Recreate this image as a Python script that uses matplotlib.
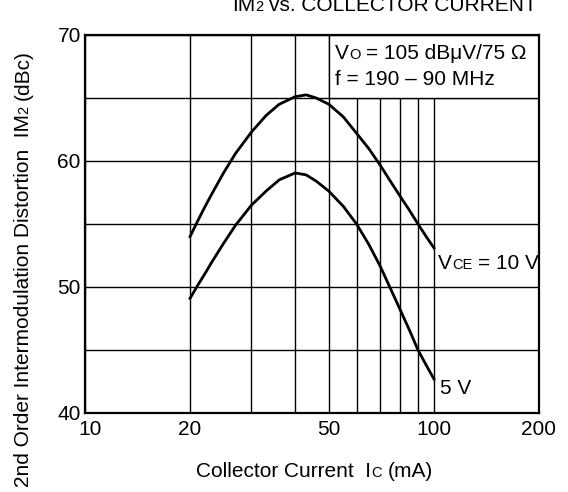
import matplotlib.pyplot as plt
from matplotlib.patches import Rectangle
from matplotlib.transforms import ScaledTranslation

plt.rcParams['font.family'] = ['Liberation Sans', 'DejaVu Sans']

# datos
ic_10v = [20, 21, 22, 23, 25, 27, 30, 33, 36, 40, 43, 46, 50,
          55, 60, 65, 70, 75, 80, 85, 90, 95, 100]
im2_10v = [54.0, 55.2, 56.3, 57.3, 59.1, 60.6, 62.3, 63.6, 64.5, 65.1, 65.25, 65.0, 64.5,
           63.5, 62.2, 61.0, 59.7, 58.4, 57.2, 56.1, 55.0, 54.0, 53.1]
ic_5v = [20, 21, 22, 23, 25, 27, 30, 33, 36, 40, 43, 46, 50,
         55, 60, 65, 70, 75, 80, 85, 90, 95, 100]
im2_5v = [49.1, 50.1, 51.0, 51.9, 53.5, 54.9, 56.5, 57.6, 58.5, 59.05, 58.9, 58.4, 57.6,
          56.4, 55.0, 53.4, 51.7, 49.9, 48.2, 46.6, 45.0, 43.8, 42.7]

x_ticks = [10, 20, 50, 100, 200]
x_minor = [30, 40, 60, 70, 80, 90]
y_ticks = [40, 50, 60, 70]
y_minor = [45, 55, 65]

FS = 15      # tamaño de letra normal
SC = 10.5    # tamaño de las "versalitas" (subindices)
DESC = 0.21  # descenso aproximado de la fuente (em)
SPACE = 0.278  # ancho del espacio (em)


def texto_rico(ax, x, y, partes, rotacion=0):
    """Dibuja trozos de texto uno detras de otro, alineados en la linea base."""
    prev = None
    prev_size = None
    for s, size in partes:
        if prev is None:
            if rotacion == 0:
                prev = ax.annotate(s, xy=(x, y), xycoords='figure pixels',
                                   fontsize=size, ha='left', va='bottom')
            else:
                prev = ax.annotate(s, xy=(x, y), xycoords='figure pixels',
                                   fontsize=size, ha='right', va='bottom',
                                   rotation=90)
        else:
            d = DESC * (prev_size - size)
            esp = 0
            if s.startswith(' '):
                esp = SPACE * size
                s = s[1:]
            if rotacion == 0:
                prev = ax.annotate(s, xy=(1, 0), xycoords=prev,
                                   xytext=(esp, d), textcoords='offset points',
                                   fontsize=size, ha='left', va='bottom')
            else:
                prev = ax.annotate(s, xy=(1, 1), xycoords=prev,
                                   xytext=(-d, esp), textcoords='offset points',
                                   fontsize=size, ha='right', va='bottom',
                                   rotation=90)
        prev_size = size
    return prev


fig = plt.figure(figsize=(5.68, 4.92), dpi=100)
ax = fig.add_axes([85 / 568, 79 / 492, 454 / 568, 378 / 492])
ax.set_xscale('log')
ax.set_xlim(10, 200)
ax.set_ylim(40, 70)

ax.set_xticks(x_ticks)
ax.set_xticklabels([str(v) for v in x_ticks])
ax.set_xticks(x_minor, minor=True)
ax.set_xticklabels([], minor=True)
ax.set_yticks(y_ticks)
ax.set_yticks(y_minor, minor=True)
ax.tick_params(which='both', length=0, labelsize=FS, colors='black')
ax.tick_params(axis='x', pad=5)
ax.tick_params(axis='y', pad=3)
# el "10" esta corrido un poco a la derecha en el original
lbl = ax.get_xticklabels()[0]
lbl.set_transform(lbl.get_transform() + ScaledTranslation(4 / 72, 0, fig.dpi_scale_trans))

ax.set_axisbelow(True)
ax.grid(True, which='both', color='black', linewidth=1.0)
for sp in ax.spines.values():
    sp.set_linewidth(1.6)

# recuadro de condiciones (tapa la rejilla)
ax.add_patch(Rectangle((50, 65), 150, 5, facecolor='white', edgecolor='black',
                       linewidth=1.0, zorder=1))

ax.plot(ic_10v, im2_10v, color='black', linewidth=2, zorder=2)
ax.plot(ic_5v, im2_5v, color='black', linewidth=2, zorder=2)

# textos
texto_rico(ax, 232, 477, [('IM', 15), ('2', 10.5), (' vs. COLLECTOR CURRENT', 15)])
texto_rico(ax, 335, 429, [('V', FS), ('O', SC), (' = 105 dBμV/75 Ω', FS)])
texto_rico(ax, 335, 403, [('f = 190 – 90 MHz', FS)])
texto_rico(ax, 438, 219, [('V', FS), ('CE', SC), (' = 10 V', FS)])
texto_rico(ax, 440, 94, [('5 V', FS)])
texto_rico(ax, 196, 11, [('Collector Current  I', FS), ('C', SC), (' (mA)', FS)])
texto_rico(ax, 33, 5, [('2nd Order Intermodulation Distortion  IM', FS),
                       ('2', SC), (' (dBc)', FS)], rotacion=90)

fig.savefig('out.png', dpi=100)
